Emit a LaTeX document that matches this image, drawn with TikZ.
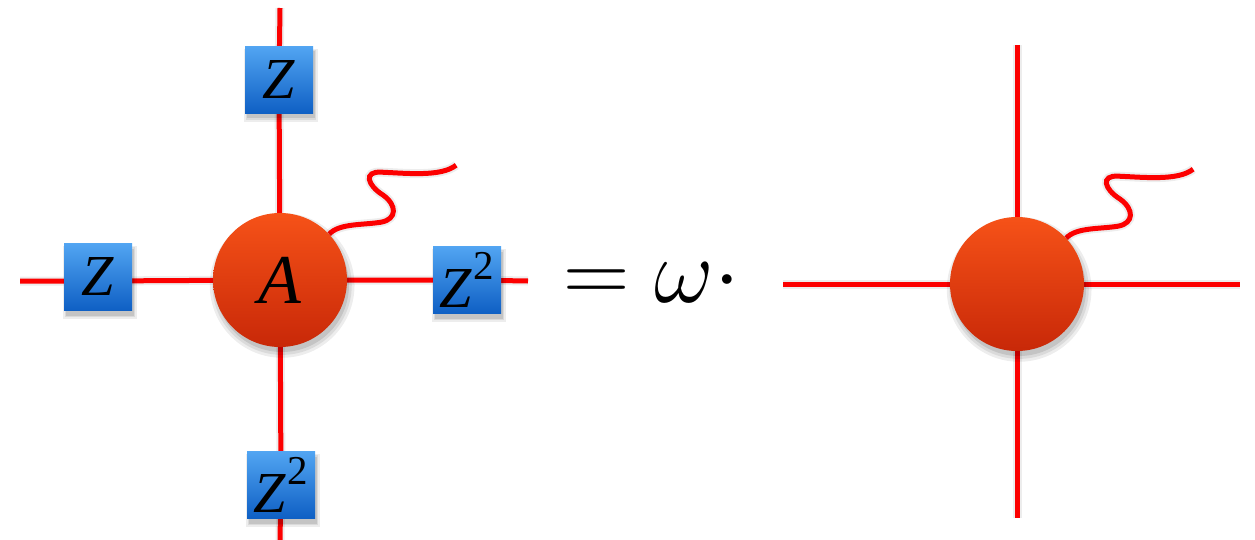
\RequirePackage{fix-cm}
\documentclass[tikz,border=0pt]{standalone}
\usepackage[no-math]{fontspec}
\setmainfont{Liberation Serif}
\usetikzlibrary{shadows}
\definecolor{wirered}{RGB}{252,0,0}
\definecolor{boxtop}{RGB}{82,165,242}
\definecolor{boxbot}{RGB}{14,95,196}
\definecolor{balltop}{RGB}{246,82,24}
\definecolor{ballbot}{RGB}{200,40,8}
\pgfdeclarelayer{background}
\pgfsetlayers{background,main}
\tikzset{
  wire/.style={draw=wirered, line width=5pt},
  wshadow/.style={draw=black, opacity=0.07, line width=9pt, xshift=2pt, yshift=-5pt},
  softshadow/.style={
    general shadow={fill=black, opacity=0.07, shadow xshift=2pt, shadow yshift=-5pt, shadow scale=1.08},
    general shadow={fill=black, opacity=0.08, shadow xshift=2pt, shadow yshift=-5pt, shadow scale=1.04},
    general shadow={fill=black, opacity=0.10, shadow xshift=2pt, shadow yshift=-5pt}},
  ball/.style={circle, minimum size=134pt, inner sep=0pt, top color=balltop, bottom color=ballbot, softshadow},
  zbox/.style={rectangle, minimum width=68pt, minimum height=67pt, inner sep=0pt, top color=boxtop, bottom color=boxbot, softshadow},
  ztext/.style={font=\fontsize{58}{60}\selectfont},
}
\newcommand{\Zsq}{\textit{Z}\kern1pt\raisebox{0.47em}{\fontsize{41}{41}\selectfont 2}}
\begin{document}
\begin{tikzpicture}[x=1pt,y=-1pt]
\useasboundingbox (0,0) rectangle (1255,540);
% left diagram
\node[ball] (A) at (280,280) {\fontsize{70}{72}\selectfont\itshape A};
\node[zbox, ztext] (Zt) at (279,80) {\textit{Z}};
\node[zbox, ztext] (Zl) at (98,277) {\textit{Z}};
\node[zbox, ztext] (Zr) at (467,280) {\Zsq};
\node[zbox, ztext] (Zb) at (281,485) {\Zsq};
\coordinate (At) at (280,8);
\coordinate (Ab) at (280,540);
\coordinate (Al) at (20,281);
\coordinate (Ar) at (528,281);
% equation
\node[anchor=base west, inner sep=0pt, font=\fontsize{92}{92}\selectfont] (eq) at (563,302) {$=\omega\cdot$};
% right diagram
\node[ball] (B) at (1017,284) {};
\coordinate (Bt) at (1017,45);
\coordinate (Bb) at (1017,518);
\coordinate (Bl) at (783,284);
\coordinate (Br) at (1240,284);
\begin{pgfonlayer}{background}
  \foreach \s in {wshadow, wire}{
    \draw[\s] (At) -- (Zt.center) -- (A.center) -- (Zb.center) -- (Ab);
    \draw[\s] (Al) -- (Zl.center |- Al) -- (A.center) -- (Zr.center) -- (Ar);
    \draw[\s] (Bt) -- (B.center) -- (Bb);
    \draw[\s] (Bl) -- (B.center) -- (Br);
    \draw[\s, shift={(A.43)}] (0,0) .. controls (10,-11) and (34,-9) .. (52,-12)
      .. controls (68,-15) and (68,-29) .. (54,-39)
      .. controls (38,-49) and (34,-63) .. (52,-62)
      .. controls (77,-61) and (112,-57) .. (127,-69);
    \draw[\s, shift={(B.43)}] (0,0) .. controls (10,-11) and (34,-9) .. (52,-12)
      .. controls (68,-15) and (68,-29) .. (54,-39)
      .. controls (38,-49) and (34,-63) .. (52,-62)
      .. controls (77,-61) and (112,-57) .. (127,-69);
  }
\end{pgfonlayer}
\end{tikzpicture}
\end{document}
